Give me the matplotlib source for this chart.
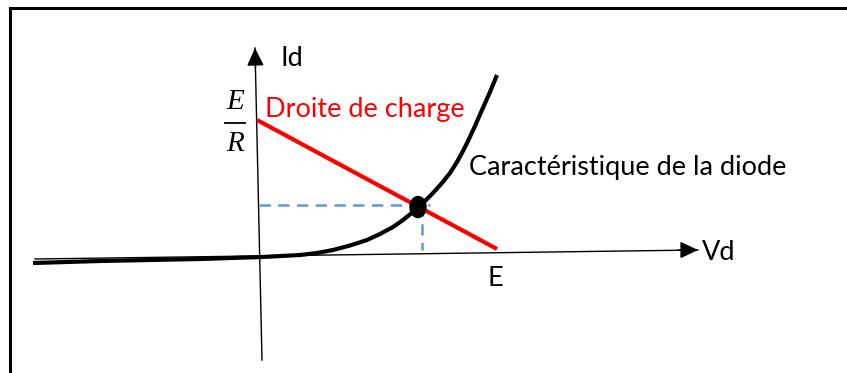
import matplotlib
matplotlib.use("Agg")
import matplotlib.pyplot as plt
from matplotlib.patches import Ellipse
from matplotlib.lines import Line2D

# diode characteristic (Vd, Id), arbitrary units
diode_vd = [-2.29, -1.62, -0.62, 0.0, 0.38, 0.55, 0.71, 0.88, 1.05, 1.18, 1.31, 1.41, 1.51,
            1.61, 1.71, 1.80, 1.88, 1.95, 2.01, 2.06, 2.13, 2.20, 2.28, 2.35]
diode_id = [-0.06, -0.04, -0.02, 0.0, 0.02, 0.04, 0.07, 0.115, 0.17, 0.23, 0.30, 0.37, 0.45,
            0.54, 0.64, 0.74, 0.84, 0.95, 1.06, 1.16, 1.31, 1.47, 1.65, 1.82]

# load line: from (0, E/R) to (E, 0)
load_vd = [-0.05, 2.35]
load_id = [1.37, 0.08]

# operating point
q_vd = 1.56
q_id = 0.50
guide_h_vd = [-0.03, 1.68]
guide_h_id = [0.52, 0.52]
guide_v_vd = [1.60, 1.60]
guide_v_id = [0.52, 0.07]

# axes (hand drawn, slightly tilted)
vd_axis_x = [-2.27, 4.36]
vd_axis_y = [-0.02, 0.07]
id_axis_x = [0.0, -0.07]
id_axis_y = [-1.03, 2.09]

font = "Lato"
fs = 19.5

fig = plt.figure(figsize=(8.47, 3.73), dpi=100)
ax = fig.add_axes([0, 0, 1, 1])
ax.set_xlim(-2.62, 5.85)
ax.set_ylim(-1.16, 2.57)
ax.axis("off")

# axes with arrows
ax.plot(vd_axis_x, vd_axis_y, color="black", lw=1.0)
ax.annotate("", xy=(vd_axis_x[1], vd_axis_y[1]), xytext=(vd_axis_x[1] - 0.2, vd_axis_y[1]),
            arrowprops=dict(arrowstyle="-|>,head_length=0.55,head_width=0.26", color="black",
                            lw=1.0, mutation_scale=20, shrinkA=0, shrinkB=0))
ax.plot(id_axis_x, id_axis_y, color="black", lw=1.0)
ax.annotate("", xy=(id_axis_x[1], id_axis_y[1]), xytext=(id_axis_x[1] + 0.005, id_axis_y[1] - 0.2),
            arrowprops=dict(arrowstyle="-|>,head_length=0.55,head_width=0.26", color="black",
                            lw=1.0, mutation_scale=20, shrinkA=0, shrinkB=0))

# dashed guides
ax.plot(guide_h_vd, guide_h_id, color="#5B9BD5", lw=1.8, ls=(0, (4.5, 3)))
ax.plot(guide_v_vd, guide_v_id, color="#5B9BD5", lw=1.8, ls=(0, (4.5, 3)))

# curves
ax.plot(diode_vd, diode_id, color="black", lw=3, solid_capstyle="butt", solid_joinstyle="round")
ax.plot(load_vd, load_id, color="red", lw=3, solid_capstyle="butt")
ax.add_patch(Ellipse((q_vd, q_id), 0.16, 0.21, color="black", zorder=5))

# labels
ax.text(0.18, 1.99, "Id", fontsize=fs, family=font, ha="left", va="center")
ax.text(4.40, 0.04, "Vd", fontsize=fs, family=font, ha="left", va="center")
ax.text(2.33, -0.21, "E", fontsize=fs, family=font, ha="center", va="center")
ax.text(0.03, 1.47, "Droite de charge", fontsize=fs, family=font, color="red", ha="left", va="center")
ax.text(2.07, 0.90, "Caractéristique de la diode", fontsize=fs, family=font, ha="left", va="center")

# E/R fraction
ax.text(-0.27, 1.55, "E", fontsize=21, family="Liberation Serif", style="italic", ha="center", va="center")
ax.plot([-0.37, -0.17], [1.34, 1.34], color="black", lw=1.3)
ax.text(-0.27, 1.13, "R", fontsize=21, family="Liberation Serif", style="italic", ha="center", va="center")

# frame (only top and left edges visible)
fig.add_artist(Line2D([10 / 847, 1], [1 - 8 / 373, 1 - 8 / 373], color="black", lw=2.2))
fig.add_artist(Line2D([10 / 847, 10 / 847], [0, 1 - 8 / 373], color="black", lw=2.2))

fig.savefig("out.png", dpi=100)
